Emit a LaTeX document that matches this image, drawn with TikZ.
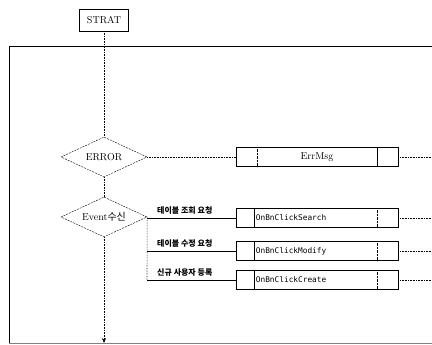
\documentclass[tikz,border=0pt]{standalone}
\usepackage{fontspec}
\newfontfamily\cjk{Noto Sans CJK KR}
\newfontfamily\monofam{DejaVu Sans Mono}
\usetikzlibrary{calc, positioning}
\usetikzlibrary{shapes.geometric}
\usetikzlibrary{arrows.meta}

\tikzset{
  startbox/.style={draw, semithick, minimum width=49pt, minimum height=22pt, inner sep=0pt,
    font=\fontsize{10}{12}\selectfont},
  decision/.style={diamond, draw, dash pattern=on 2pt off 1pt, thin, inner sep=0pt, aspect=2.2,
    minimum width=86pt, minimum height=40pt, font=\fontsize{10}{12}\selectfont},
  procbox/.style={draw, semithick, minimum width=162pt, minimum height=19pt, inner sep=0pt,
    font=\fontsize{10}{12}\selectfont},
  fname/.style={font=\monofam\fontsize{7.8}{9}\selectfont, inner sep=1pt},
  tag/.style={font=\cjk\bfseries\fontsize{8}{9}\selectfont, anchor=base west, inner sep=0pt},
  flow/.style={densely dotted, semithick},
  branch/.style={thin},
}

\begin{document}
\begin{tikzpicture}[x=1pt, y=-1pt]
\useasboundingbox (0,0) rectangle (432,345);

% frame
\coordinate (fTR) at (432,46);
\coordinate (fTL) at (9,46);
\coordinate (fBL) at (9,343);
\coordinate (fBR) at (432,343);
\draw[thick] (fTR) -- (fTL) -- (fBL);
\draw[semithick, gray] (fBL) -- (fBR);

% main line
\node[startbox] (strat) at (104,20) {STRAT};
\node[decision] (err) at (104,157) {ERROR};
\node[decision] (evt) at (104,217) {Event{\cjk 수신}};
\coordinate (endpt) at (104,343);

\draw[flow] (strat) -- (err);
\draw[flow] (err) -- (evt);
\draw[flow, -{Stealth[length=5pt, width=4pt]}] (evt) -- (endpt);

% error handler
\node[procbox] (errmsg) at (317,157) {ErrMsg};
\draw[densely dotted] ($(errmsg.north west)+(21,0)$) -- ($(errmsg.south west)+(21,0)$);
\draw[semithick] ($(errmsg.north east)+(-21,0)$) -- ($(errmsg.south east)+(-21,0)$);
\coordinate (errout) at (432,157);
\draw[flow] (err) -- (errmsg);
\draw[flow] (errmsg) -- (errout);

% button events
\foreach \nm/\yy/\req/\fn in {search/218/테이블 조회 요청/OnBnClickSearch,
                              modify/251/테이블 수정 요청/OnBnClickModify,
                              create/280/신규 사용자 등록/OnBnClickCreate} {
  \node[procbox] (\nm) at (317,\yy) {};
  \node[fname, anchor=west] (\nm txt) at ($(\nm.west)+(19,0)$) {\fn};
  \draw[semithick] ($(\nm.north west)+(19,0)$) -- ($(\nm.south west)+(19,0)$);
  \draw[densely dotted] ($(\nm.north east)+(-21,0)$) -- ($(\nm.south east)+(-21,0)$);
  \coordinate (\nm tap) at (147,\yy);
  \coordinate (\nm out) at (432,\yy);
  \draw[branch] (\nm tap) -- (\nm);
  \draw[flow] (\nm) -- (\nm out);
  \node[tag] (\nm req) at (157,\yy-4) {\req};
}
\draw[flow] (evt.east) -- (createtap);
\end{tikzpicture}
\end{document}
